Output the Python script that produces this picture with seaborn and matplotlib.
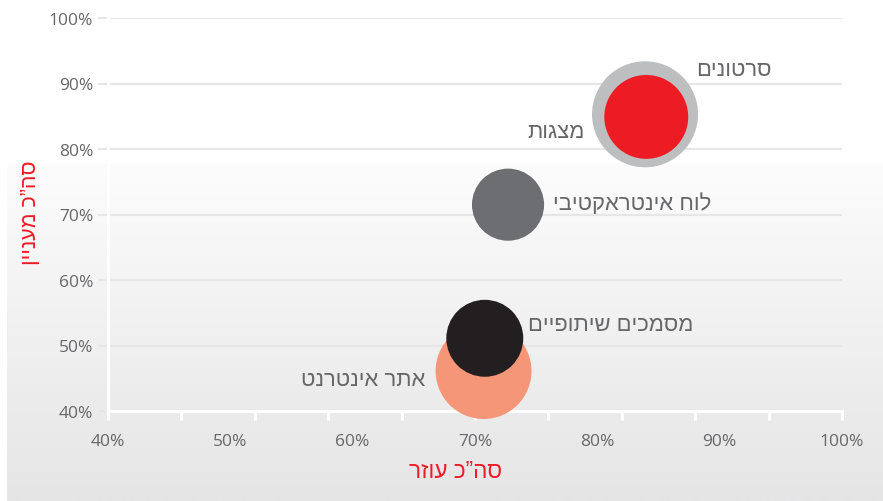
import numpy as np
import pandas as pd
import matplotlib
matplotlib.use("Agg")
import matplotlib.pyplot as plt
import seaborn as sns

# Bubble data: how helpful (x) and how interesting (y) each tool was rated, bubble area = weight
tools = ["סרטונים", "מצגות", "לוח אינטראקטיבי", "אתר אינטרנט", "מסמכים שיתופיים"]
helpful = [83.9, 84.0, 72.7, 70.7, 70.8]
interesting = [85.3, 84.9, 71.5, 46.1, 51.1]
weight = [28.1, 17.6, 13.0, 23.0, 14.8]
colors = ["#bcbec0", "#ed1c24", "#6d6e71", "#f69679", "#231f20"]

x_ticks = [40, 50, 60, 70, 80, 90, 100]
x_tick_labels = ["40%", "50%", "60%", "70%", "80%", "90%", "100%"]
y_ticks = [40, 50, 60, 70, 80, 90, 100]
y_tick_labels = ["40%", "50%", "60%", "70%", "80%", "90%", "100%"]

x_title = "סה”כ עוזר"
y_title = "סה”כ מעניין"


def visual(s):
    # Hebrew is right-to-left; matplotlib lays glyphs out left-to-right
    return s[::-1]


df = pd.DataFrame({"tool": tools, "helpful": helpful,
                   "interesting": interesting, "weight": weight})

W, H, DPI = 883, 502, 100
sns.set_theme(style="white")
plt.rcParams["font.family"] = ["Liberation Sans", "DejaVu Sans"]
hebrew_font = ["Liberation Sans", "DejaVu Sans"]

fig = plt.figure(figsize=(W / DPI, H / DPI), dpi=DPI, facecolor="white")

# soft grey panel behind the lower part of the chart
bg = fig.add_axes([7 / W, 0, 1 - 7 / W, 337 / H], zorder=0)
grad = np.linspace(0, 1, 256)[:, None]
bg.imshow(grad, aspect="auto", cmap=matplotlib.colors.LinearSegmentedColormap.from_list(
    "panel", ["#fcfcfc", "#e5e5e6"]), extent=(0, 1, 0, 1), origin="upper")
bg.axis("off")

ax = fig.add_axes([108 / W, (H - 412) / H, 734 / W, 393 / H], zorder=1)
ax.set_facecolor("none")

# points -> pixels: a bubble of weight w has a radius of sqrt(100 w) pixels
s_max = max(weight) * 100 * 4 * (72 / DPI) ** 2
sns.scatterplot(data=df, x="helpful", y="interesting", hue="tool",
                palette=dict(zip(tools, colors)), size="weight",
                sizes=(0, s_max), size_norm=(0, max(weight)),
                linewidth=0, alpha=1, legend=False, ax=ax,
                zorder=3, clip_on=False)

ax.set_xlim(40, 100)
ax.set_ylim(40, 100)

# labels next to each bubble: (dx, dy) in points, alignment
label_layout = [(36.7, 32.4, "left"), (-44.6, -10.8, "right"),
                (32.4, 1.4, "left"), (-41.8, -5.8, "right"),
                (31.0, 10.0, "left")]
for t, xv, yv, (dx, dy, ha) in zip(tools, helpful, interesting, label_layout):
    ax.annotate(visual(t), xy=(xv, yv), xytext=(dx, dy), textcoords="offset points",
                ha=ha, va="center", fontsize=15.8, color="#666769", zorder=4,
                family=hebrew_font)

ax.set_xticks(x_ticks)
ax.set_xticklabels(x_tick_labels)
ax.set_yticks(y_ticks)
ax.set_yticklabels(y_tick_labels)
ax.set_xticks(np.linspace(40, 100, 11), minor=True)
ax.xaxis.remove_overlapping_locs = False

tick_font = ["Open Sans", "DejaVu Sans"]
for lab in ax.get_xticklabels() + ax.get_yticklabels():
    lab.set_family(tick_font)
ax.tick_params(axis="x", which="major", length=0, pad=16, labelsize=12.5,
               labelcolor="#666769")
ax.tick_params(axis="x", which="minor", length=6.5, width=2.2, color="white",
               direction="out", bottom=True)
ax.tick_params(axis="y", which="major", length=7.2, width=1.5, color="#e6e6e7",
               pad=3.6, labelsize=12.5, labelcolor="#666769", left=True)

ax.yaxis.grid(True, color="#e6e6e7", linewidth=1.5)
ax.xaxis.grid(False)
ax.set_axisbelow(True)

for side in ("top", "right"):
    ax.spines[side].set_visible(False)
for side in ("left", "bottom"):
    ax.spines[side].set_color("white")
    ax.spines[side].set_linewidth(2.2)
    ax.spines[side].set_zorder(2.5)

ax.set_xlabel("")
ax.set_ylabel("")
fig.text(456 / W, 1 - 472 / H, visual(x_title), ha="center", va="center",
         fontsize=16.3, color="#ed1c24", family=hebrew_font)
fig.text(31 / W, 1 - 213 / H, visual(y_title), ha="center", va="center",
         rotation=90, fontsize=15.5, color="#ed1c24", family=hebrew_font)

fig.savefig("out.png", dpi=DPI, facecolor="white")
